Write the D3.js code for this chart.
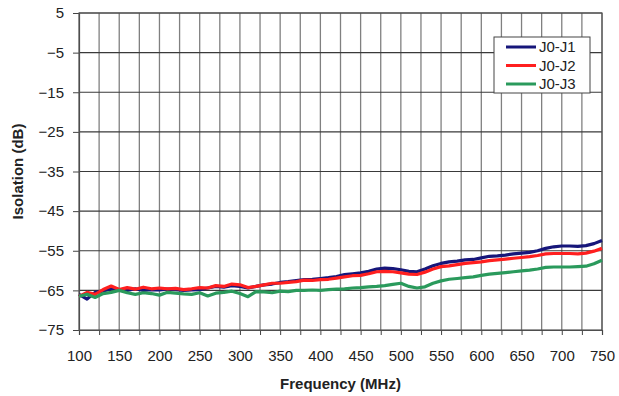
<!DOCTYPE html>
<html>
<head>
<meta charset="utf-8">
<script src="https://cdn.jsdelivr.net/npm/d3@7"></script>
<style>
    body { margin: 0; background: #fff; }
    text { font-family: "Liberation Sans", Arial, sans-serif; }
</style>
</head>
<body>
<svg id="chart"></svg>
<script>
// frequency points (MHz), every 10 MHz
const freqs = d3.range(100, 751, 10);

const seriesNames = ["J0-J1", "J0-J2", "J0-J3"];
const seriesColors = ["#16167a", "#ff1f1f", "#2a9a5c"];

const j1 = [-66.0, -67.2, -65.5, -65.2, -64.5, -64.8, -65.0, -64.6, -65.0, -64.8,
    -64.9, -64.7, -64.8, -65.0, -64.9, -64.8, -64.4, -64.0, -64.2, -63.8,
    -64.0, -64.4, -64.0, -63.6, -63.4, -63.0, -62.8, -62.5, -62.3, -62.2,
    -62.0, -61.8, -61.5, -61.0, -60.8, -60.6, -60.2, -59.6, -59.4, -59.5,
    -59.8, -60.2, -60.3, -59.6, -58.8, -58.2, -57.8, -57.6, -57.3, -57.2,
    -56.8, -56.4, -56.3, -56.1, -55.8, -55.6, -55.4, -55.0, -54.4, -54.0,
    -53.8, -53.8, -53.9, -53.7, -53.2, -52.4];

const j2 = [-66.5, -65.5, -66.0, -64.8, -63.9, -64.8, -64.3, -64.7, -64.2, -64.6,
    -64.4, -64.6, -64.5, -64.8, -64.6, -64.3, -64.4, -63.8, -64.0, -63.4,
    -63.6, -64.3, -64.0, -63.6, -63.2, -63.2, -63.0, -62.8, -62.4, -62.5,
    -62.3, -62.2, -61.9, -61.6, -61.3, -61.2, -60.8, -60.3, -60.2, -60.3,
    -60.6, -60.9, -61.0, -60.4, -59.6, -59.0, -58.8, -58.5, -58.2, -58.0,
    -57.8, -57.5, -57.3, -57.1, -56.9, -56.7, -56.5, -56.2, -55.8, -55.7,
    -55.7, -55.7, -55.8, -55.6, -55.1, -54.4];

const j3 = [-66.5, -66.0, -66.8, -65.8, -65.5, -65.0, -65.6, -66.0, -65.6, -65.8,
    -66.2, -65.5, -65.7, -65.9, -66.0, -65.6, -66.4, -65.7, -65.5, -65.2,
    -65.8, -66.6, -65.3, -65.4, -65.6, -65.2, -65.3, -65.0, -65.0, -64.9,
    -65.0, -64.8, -64.7, -64.6, -64.4, -64.3, -64.1, -64.0, -63.8, -63.5,
    -63.2, -64.0, -64.4, -64.1, -63.2, -62.6, -62.2, -62.0, -61.8, -61.6,
    -61.2, -60.9, -60.7, -60.5, -60.3, -60.1, -59.9, -59.6, -59.2, -59.1,
    -59.1, -59.1, -59.0, -58.9, -58.3, -57.4];

const xTicks = d3.range(100, 751, 50);
const xMinor = d3.range(100, 751, 25);
const yTicks = d3.range(5, -76, -10);

const width = 619, height = 396;
const margin = { top: 13, right: 17, bottom: 66, left: 79 };

const svg = d3.select("#chart").attr("width", width).attr("height", height);

const x = d3.scaleLinear().domain([100, 750]).range([margin.left, width - margin.right]);
const y = d3.scaleLinear().domain([-75, 5]).range([height - margin.bottom, margin.top]);

// vertical grid
svg.append("g")
    .selectAll("line")
    .data(xMinor.slice(1))
    .join("line")
    .attr("x1", d => x(d)).attr("x2", d => x(d))
    .attr("y1", y(5)).attr("y2", y(-75))
    .attr("stroke", "#808080")
    .attr("stroke-width", 1.3);

// horizontal grid
svg.append("g")
    .selectAll("line")
    .data(yTicks.filter(d => d > -75))
    .join("line")
    .attr("x1", x(100)).attr("x2", x(750))
    .attr("y1", d => y(d)).attr("y2", d => y(d))
    .attr("stroke", "#3a3a3a")
    .attr("stroke-width", 1.2);

// x axis
const xAxis = svg.append("g")
    .attr("transform", `translate(0, ${y(-75)})`)
    .call(d3.axisBottom(x).tickValues(xMinor).tickSize(5).tickFormat(d => d % 50 === 0 ? d : ""));
xAxis.select(".domain").attr("stroke", "#444").attr("stroke-width", 1.2);
xAxis.selectAll(".tick line").attr("stroke", "#444");
xAxis.selectAll(".tick text")
    .attr("font-size", 15).attr("fill", "#222")
    .attr("font-family", "Liberation Sans, Arial, sans-serif")
    .attr("dy", "1.5em");

// y axis
const yAxis = svg.append("g")
    .attr("transform", `translate(${x(100)}, 0)`)
    .call(d3.axisLeft(y).tickValues(yTicks).tickSize(6).tickPadding(9));
yAxis.select(".domain").attr("stroke", "#444").attr("stroke-width", 1.2);
yAxis.selectAll(".tick line").attr("stroke", "#444");
yAxis.selectAll(".tick text")
    .attr("font-size", 15).attr("fill", "#222")
    .attr("font-family", "Liberation Sans, Arial, sans-serif");

// frame right/top
svg.append("rect")
    .attr("x", x(100)).attr("y", y(5))
    .attr("width", x(750) - x(100)).attr("height", y(-75) - y(5))
    .attr("fill", "none").attr("stroke", "#555").attr("stroke-width", 1.2);

// series
const line = d3.line()
    .x((d, i) => x(freqs[i]))
    .y(d => y(d))
    .curve(d3.curveLinear);

[j1, j2, j3].forEach((s, k) => {
    svg.append("path")
        .datum(s)
        .attr("fill", "none")
        .attr("stroke", seriesColors[k])
        .attr("stroke-width", 3.2)
        .attr("stroke-linejoin", "round")
        .attr("d", line);
});

// legend
const legend = svg.append("g").attr("transform", "translate(494, 37)");
legend.append("rect")
    .attr("width", 96).attr("height", 56)
    .attr("fill", "#fff").attr("stroke", "#444").attr("stroke-width", 1);
seriesNames.forEach((n, k) => {
    const ly = 10 + k * 18.5;
    legend.append("line")
        .attr("x1", 12).attr("x2", 42).attr("y1", ly).attr("y2", ly)
        .attr("stroke", seriesColors[k]).attr("stroke-width", 3);
    legend.append("text")
        .attr("x", 45).attr("y", ly + 5)
        .attr("font-size", 15).attr("fill", "#222")
        .text(n);
});

// axis titles
svg.append("text")
    .attr("x", (x(100) + x(750)) / 2).attr("y", 389)
    .attr("text-anchor", "middle")
    .attr("font-size", 15).attr("font-weight", "bold").attr("fill", "#222")
    .text("Frequency (MHz)");

svg.append("text")
    .attr("transform", `translate(23, ${(y(5) + y(-75)) / 2}) rotate(-90)`)
    .attr("text-anchor", "middle")
    .attr("font-size", 15).attr("font-weight", "bold").attr("fill", "#222")
    .text("Isolation (dB)");
</script>
</body>
</html>
